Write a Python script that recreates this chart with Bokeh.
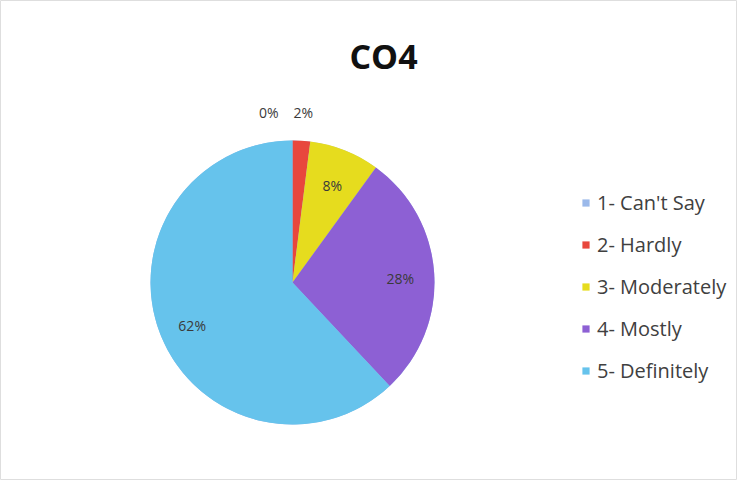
import numpy as np
from bokeh.plotting import figure
from bokeh.models import ColumnDataSource, Range1d, Legend, LegendItem
from bokeh.core.properties import value
from bokeh.embed import file_html
from bokeh.resources import INLINE

title = "CO4"
categories = ["1- Can't Say", "2- Hardly", "3- Moderately", "4- Mostly", "5- Definitely"]
percents = [0, 2, 8, 28, 62]
colors = ["#9bb9ea", "#e8473d", "#e6dc1e", "#8d60d4", "#66c3ec"]

W, H = 737, 480
cx, cy, r = 292, 198, 142

p = figure(width=W, height=H, output_backend="svg", toolbar_location=None,
           x_range=Range1d(0, W), y_range=Range1d(0, H), min_border=0)
p.axis.visible = False
p.grid.visible = False
p.outline_line_color = "#dedede"
p.background_fill_color = "white"

vals = np.array(percents, dtype=float)
frac = vals / vals.sum()
cum_end = np.cumsum(frac)
cum_start = cum_end - frac
start = np.pi / 2 - 2 * np.pi * cum_start
end = np.pi / 2 - 2 * np.pi * cum_end
mid = (start + end) / 2

src = ColumnDataSource(dict(cat=categories, start=start, end=end, color=colors))
wr = p.wedge(x=cx, y=cy, radius=r, start_angle="start", end_angle="end",
             direction="clock", fill_color="color", line_color=None, source=src)

# labels
lx, ly, lt, la = [], [], [], []
for i, v in enumerate(percents):
    if v >= 5:
        k = 0.76 * r
        lx.append(cx + k * np.cos(mid[i])); ly.append(cy + k * np.sin(mid[i]) - 3); la.append("center")
    else:
        k = 1.2 * r
        x = cx + k * np.cos(mid[i])
        if v == 0:
            lx.append(x - 14); la.append("right")
        else:
            lx.append(x); la.append("center")
        ly.append(cy + k * np.sin(mid[i]))
    lt.append(f"{v}%")
lsrc = ColumnDataSource(dict(x=lx, y=ly, t=lt, a=la))
p.text(x="x", y="y", text="t", text_align="a", text_baseline="middle",
       text_font=value("Open Sans"), text_font_size="14px", text_color="#3a3a3a", source=lsrc)

p.text(x=[cx + 91], y=[cy + 227], text=[title], text_align="center", text_baseline="middle",
       text_font=value("Open Sans"), text_font_style="bold", text_font_size="34px", text_color="#111111")

items = [LegendItem(label=c, renderers=[wr], index=i) for i, c in enumerate(categories)]
legend = Legend(items=items, location=(581, 96), orientation="vertical",
                glyph_width=9, glyph_height=9, label_height=23, spacing=15,
                label_text_font="Open Sans", label_text_font_size="20px", label_text_color="#404040",
                label_standoff=7, padding=0, margin=0,
                border_line_alpha=0, background_fill_alpha=0)
p.add_layout(legend, "center")

open("out.html", "w").write(file_html(p, INLINE))
